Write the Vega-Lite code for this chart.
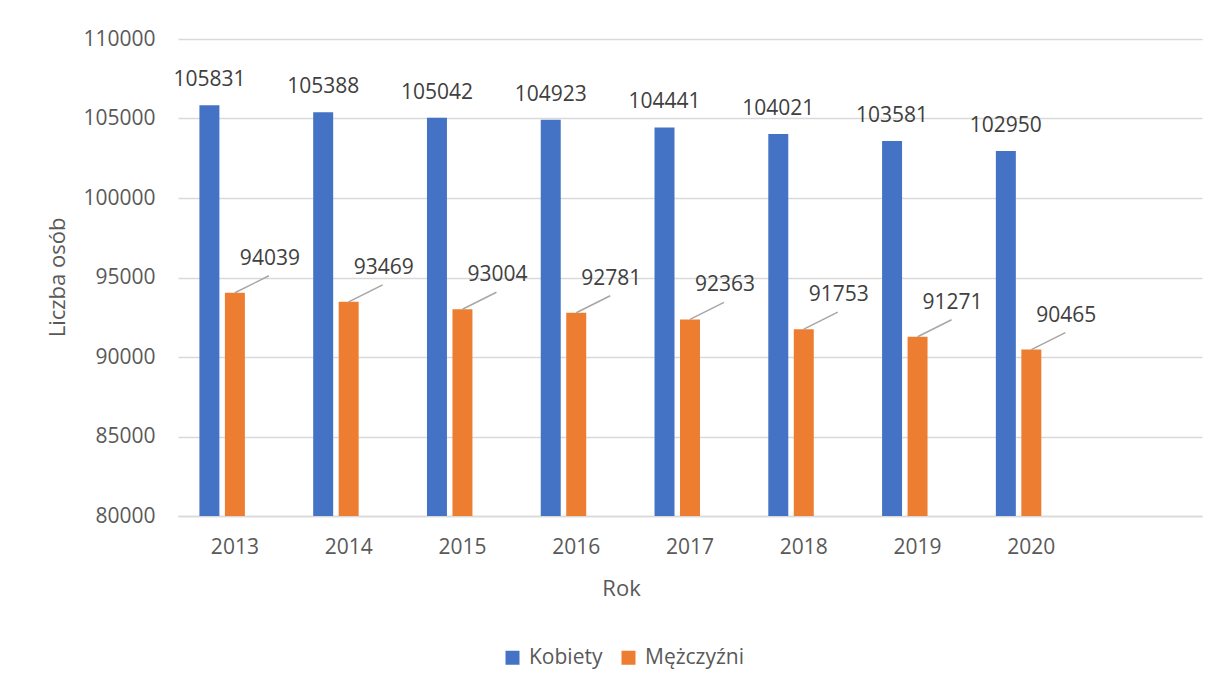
{
  "$schema": "https://vega.github.io/schema/vega-lite/v6.json",
  "width": 1024,
  "height": 477,
  "autosize": "none",
  "padding": {"left": 178, "top": 39, "right": 18, "bottom": 171},
  "background": "white",
  "config": {
    "view": {"stroke": null},
    "font": "Open Sans"
  },
  "data": {
    "values": [
      {"year": "2013", "series": "Kobiety", "value": 105831},
      {"year": "2014", "series": "Kobiety", "value": 105388},
      {"year": "2015", "series": "Kobiety", "value": 105042},
      {"year": "2016", "series": "Kobiety", "value": 104923},
      {"year": "2017", "series": "Kobiety", "value": 104441},
      {"year": "2018", "series": "Kobiety", "value": 104021},
      {"year": "2019", "series": "Kobiety", "value": 103581},
      {"year": "2020", "series": "Kobiety", "value": 102950},
      {"year": "2013", "series": "Mężczyźni", "value": 94039},
      {"year": "2014", "series": "Mężczyźni", "value": 93469},
      {"year": "2015", "series": "Mężczyźni", "value": 93004},
      {"year": "2016", "series": "Mężczyźni", "value": 92781},
      {"year": "2017", "series": "Mężczyźni", "value": 92363},
      {"year": "2018", "series": "Mężczyźni", "value": 91753},
      {"year": "2019", "series": "Mężczyźni", "value": 91271},
      {"year": "2020", "series": "Mężczyźni", "value": 90465}
    ]
  },
  "encoding": {
    "x": {
      "field": "year",
      "type": "nominal",
      "scale": {
        "domain": ["2013", "2014", "2015", "2016", "2017", "2018", "2019", "2020", " "],
        "paddingInner": 0.328,
        "paddingOuter": 0.164
      },
      "axis": {
        "labelAngle": 0,
        "ticks": false,
        "domainColor": "#d9d9d9",
        "domainWidth": 1.5,
        "labelFontSize": 21,
        "labelColor": "#595959",
        "labelPadding": 20,
        "title": "Rok",
        "titleFontSize": 22,
        "titleFontWeight": "normal",
        "titleColor": "#595959",
        "titleX": 443,
        "titleY": 72,
        "titleBaseline": "middle"
      }
    },
    "y": {
      "field": "value",
      "type": "quantitative",
      "stack": null,
      "scale": {"domain": [80000, 110000]},
      "axis": {
        "values": [80000, 85000, 90000, 95000, 100000, 105000, 110000],
        "format": "d",
        "grid": true,
        "gridColor": "#d9d9d9",
        "gridWidth": 1.5,
        "domain": false,
        "ticks": false,
        "labelPadding": 23,
        "labelFontSize": 21,
        "labelColor": "#595959",
        "title": "Liczba osób",
        "titleFontSize": 22,
        "titleFontWeight": "normal",
        "titleColor": "#595959",
        "titleX": -121,
        "titleY": 238,
        "titleBaseline": "middle"
      }
    }
  },
  "layer": [
    {
      "mark": {"type": "bar"},
      "encoding": {
        "y2": {"datum": 80000},
        "xOffset": {
          "field": "series",
          "scale": {"domain": ["Kobiety", "Mężczyźni", "_"], "paddingInner": 0.216, "paddingOuter": 0.108}
        },
        "color": {
          "field": "series",
          "type": "nominal",
          "scale": {"domain": ["Kobiety", "Mężczyźni"], "range": ["#4472C4", "#ED7D31"]},
          "legend": {
            "orient": "none",
            "legendX": 324,
            "legendY": 608,
            "direction": "horizontal",
            "title": null,
            "symbolType": "square",
            "symbolSize": 196,
            "symbolStrokeWidth": 0,
            "labelFontSize": 21,
            "labelColor": "#595959",
            "labelOffset": 6,
            "columnPadding": 15
          }
        }
      }
    },
    {
      "transform": [{"filter": "datum.series === 'Mężczyźni'"}],
      "mark": {"type": "rule", "color": "#a6a6a6", "strokeWidth": 1.5, "x2Offset": 34, "y2Offset": -17},
      "encoding": {
        "x2": {"field": "year"},
        "y2": {"field": "value"}
      }
    },
    {
      "transform": [{"filter": "datum.series === 'Kobiety'"}],
      "mark": {"type": "text", "dy": -25, "baseline": "middle", "fontSize": 21, "color": "#404040"},
      "encoding": {
        "xOffset": {
          "field": "series",
          "scale": {"domain": ["Kobiety", "Mężczyźni", "_"], "paddingInner": 0.216, "paddingOuter": 0.108}
        },
        "text": {"field": "value", "type": "quantitative", "format": "d"}
      }
    },
    {
      "transform": [{"filter": "datum.series === 'Mężczyźni'"}],
      "mark": {"type": "text", "dx": 35, "dy": -34, "baseline": "middle", "fontSize": 21, "color": "#404040"},
      "encoding": {
        "text": {"field": "value", "type": "quantitative", "format": "d"}
      }
    }
  ]
}
